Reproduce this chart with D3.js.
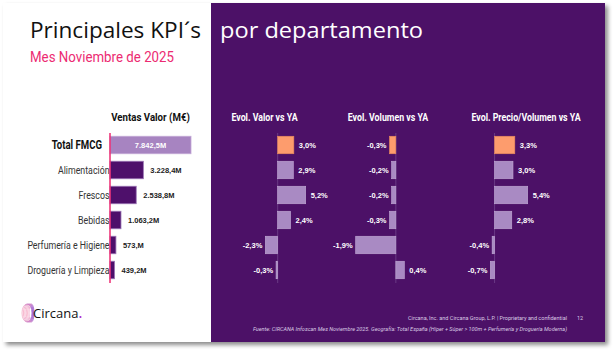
<!DOCTYPE html>
<html>
<head>
<meta charset="utf-8">
<script src="https://cdn.jsdelivr.net/npm/d3@7"></script>
<style>
  body { margin: 0; background: #fff; }
  svg { display: block; }
  .cond { font-family: 'Roboto', sans-serif; }
  .lbl { font-family: 'Liberation Sans', 'Roboto', sans-serif; font-weight: bold; font-size: 7.5px; }
</style>
</head>
<body>
<svg id="chart" width="615" height="351"></svg>
<script>
// data
const categories = ['Total FMCG', 'Alimentación', 'Frescos', 'Bebidas', 'Perfumería e Higiene', 'Droguería y Limpieza'];
const ventas = [7842.5, 3228.4, 2538.8, 1063.2, 573.0, 439.2];
const ventasLabels = ['7.842,5M', '3.228,4M', '2.538,8M', '1.063,2M', '573,M', '439,2M'];
const evolValor = [3.0, 2.9, 5.2, 2.4, -2.3, -0.3];
const evolVolumen = [-0.3, -0.2, -0.2, -0.3, -1.9, 0.4];
const evolPrecio = [3.3, 3.0, 5.4, 2.8, -0.4, -0.7];
const panelTitles = ['Evol. Valor vs YA', 'Evol. Volumen vs YA', 'Evol. Precio/Volumen vs YA'];

const purple = '#4c1167';
const svg = d3.select('#chart');
const es = d3.formatLocale({ decimal: ',', thousands: '.', grouping: [3], currency: ['', ''], minus: '-' });
const pct = v => es.format('.1f')(v) + '%';

// no condensed font installed, so squeeze horizontally with a transform
function condense(sel, k) {
  sel.each(function() {
    const t = d3.select(this);
    const x = +t.attr('x'), y = +t.attr('y');
    t.attr('x', 0).attr('y', 0).attr('transform', `translate(${x},${y}) scale(${k},1)`);
  });
}

// slide background + shadow
const defs = svg.append('defs');
const sh = defs.append('filter').attr('id', 'shadow').attr('x', '-5%').attr('y', '-5%').attr('width', '115%').attr('height', '115%');
sh.append('feDropShadow').attr('dx', 3).attr('dy', 3).attr('stdDeviation', 2).attr('flood-color', '#000').attr('flood-opacity', 0.45);

svg.append('rect').attr('x', 3).attr('y', 3).attr('width', 602).attr('height', 339)
  .attr('fill', '#fff').attr('filter', 'url(#shadow)');
svg.append('rect').attr('x', 211).attr('y', 3).attr('width', 394).attr('height', 339).attr('fill', purple);

// titles
svg.append('text').attr('x', 30).attr('y', 38).attr('font-family', 'Open Sans, sans-serif')
  .attr('font-size', 21).attr('fill', '#111').attr('textLength', 171).attr('lengthAdjust', 'spacingAndGlyphs')
  .text('Principales KPI´s');
svg.append('text').attr('x', 220).attr('y', 38).attr('font-family', 'Open Sans, sans-serif')
  .attr('font-size', 21).attr('fill', '#fff').attr('textLength', 203).attr('lengthAdjust', 'spacingAndGlyphs')
  .text('por departamento');
svg.append('text').attr('class', 'cond').attr('x', 30).attr('y', 62)
  .attr('font-size', 14).attr('fill', '#ec2b72').text('Mes Noviembre de 2025')
  .call(condense, 0.95);

// rows
const y = d3.scaleBand().domain(categories).range([132.5, 282.5]).paddingInner(0.3).paddingOuter(0.15);
const rows = categories.map((c, i) => ({ c, i }));

// ventas panel
const xV = d3.scaleLinear().domain([0, d3.max(ventas)]).range([110, 191]);

svg.append('text').attr('class', 'cond').attr('x', 150.5).attr('y', 121).attr('text-anchor', 'middle')
  .attr('font-size', 11).attr('font-weight', 'bold').attr('fill', '#111').text('Ventas Valor (M€)')
  .call(condense, 0.88);

svg.append('g').selectAll('text').data(rows).join('text')
  .attr('class', 'cond')
  .attr('x', d => d.i === 0 ? 102 : 109.5)
  .attr('y', d => y(d.c) + y.bandwidth() / 2 + 4)
  .attr('text-anchor', 'end')
  .attr('font-size', d => d.i === 0 ? 12 : 11)
  .attr('font-weight', d => d.i === 0 ? 'bold' : 'normal')
  .attr('fill', d => d.i === 0 ? '#111' : '#333')
  .text(d => d.c)
  .call(condense, 0.8);

svg.append('g').selectAll('rect').data(rows).join('rect')
  .attr('x', xV(0))
  .attr('y', d => y(d.c))
  .attr('width', d => xV(ventas[d.i]) - xV(0))
  .attr('height', y.bandwidth())
  .attr('fill', d => d.i === 0 ? '#a784c1' : '#4e106b')
  .attr('stroke', d => d.i === 0 ? '#c3a9d6' : '#9a74b4')
  .attr('stroke-width', 0.8);

svg.append('line').attr('x1', xV(0)).attr('x2', xV(0)).attr('y1', 133).attr('y2', 283)
  .attr('stroke', '#ec2b72').attr('stroke-width', 1.5);

svg.append('g').selectAll('text').data(rows).join('text')
  .attr('class', 'lbl')
  .attr('x', d => d.i === 0 ? (xV(0) + xV(ventas[0])) / 2 : xV(ventas[d.i]) + 7)
  .attr('y', d => y(d.c) + y.bandwidth() / 2 + 3)
  .attr('text-anchor', d => d.i === 0 ? 'middle' : 'start')
  .attr('font-size', d => d.i === 0 ? 10.5 : 7.8)
  .attr('fill', d => d.i === 0 ? '#fff' : '#222')
  .text(d => ventasLabels[d.i]);

// evolution panels
const panels = [
  { values: evolValor, range: [265.3, 305.7], title: panelTitles[0], cx: 264.5 },
  { values: evolVolumen, range: [355.7, 404.3], title: panelTitles[1], cx: 388 },
  { values: evolPrecio, range: [490.3, 527.7], title: panelTitles[2], cx: 526 }
];

panels.forEach(p => {
  const x = d3.scaleLinear().domain(d3.extent(p.values)).range(p.range);
  const g = svg.append('g');

  g.append('text').attr('class', 'cond').attr('x', p.cx).attr('y', 121).attr('text-anchor', 'middle')
    .attr('font-size', 11).attr('font-weight', 'bold').attr('fill', '#fff').text(p.title)
    .call(condense, 0.8);

  g.append('line').attr('x1', x(0)).attr('x2', x(0)).attr('y1', 133).attr('y2', 283)
    .attr('stroke', '#6a3a86').attr('stroke-width', 1);

  g.selectAll('rect').data(rows).join('rect')
    .attr('x', d => Math.min(x(0), x(p.values[d.i])))
    .attr('y', d => y(d.c))
    .attr('width', d => Math.abs(x(p.values[d.i]) - x(0)))
    .attr('height', y.bandwidth())
    .attr('fill', d => d.i === 0 ? '#fd9c6d' : '#a98ac3')
    .attr('stroke', d => d.i === 0 ? '#e98a5c' : '#c2aad6')
    .attr('stroke-width', 0.6);

  g.selectAll('text.v').data(rows).join('text')
    .attr('class', 'lbl v')
    .attr('x', d => p.values[d.i] >= 0 ? x(p.values[d.i]) + 5 : x(p.values[d.i]) - 3)
    .attr('y', d => y(d.c) + y.bandwidth() / 2 + 3)
    .attr('text-anchor', d => p.values[d.i] >= 0 ? 'start' : 'end')
    .attr('fill', '#fff')
    .text(d => pct(p.values[d.i]));
});

// logo
const grad = defs.append('linearGradient').attr('id', 'logoGrad').attr('x1', 0).attr('x2', 1);
grad.append('stop').attr('offset', 0).attr('stop-color', '#f59ab9');
grad.append('stop').attr('offset', 1).attr('stop-color', '#9b5ad0');
const logo = svg.append('g');
[0, 1, 2, 3, 4, 5].forEach(o => {
  logo.append('ellipse').attr('cx', 27 + o * 0.9).attr('cy', 313).attr('rx', 5 - o * 0.5).attr('ry', 9)
    .attr('fill', 'none').attr('stroke', 'url(#logoGrad)').attr('stroke-width', 0.7);
});
const brand = logo.append('text').attr('x', 33).attr('y', 318).attr('font-family', 'Open Sans, sans-serif')
  .attr('font-size', 13).attr('fill', '#111').text('Circana');
logo.append('circle').attr('cx', 33 + brand.node().getComputedTextLength() + 2).attr('cy', 317).attr('r', 1.1).attr('fill', '#a02bd6');

// footer
const foot = svg.append('g').attr('class', 'cond').attr('font-size', 5.5).attr('fill', '#d9c9e3');
foot.append('text').attr('x', 567).attr('y', 320).attr('text-anchor', 'end')
  .text('Circana, Inc. and Circana Group, L.P. |  Proprietary and confidential');
foot.append('text').attr('x', 580).attr('y', 320).attr('text-anchor', 'middle').text('12');
foot.append('text').attr('x', 567).attr('y', 331).attr('text-anchor', 'end').attr('font-style', 'italic')
  .text('Fuente: CIRCANA Infoscan Mes Noviembre 2025. Geografía: Total España (Híper + Súper > 100m + Perfumería y Droguería Moderna)');
</script>
</body>
</html>
